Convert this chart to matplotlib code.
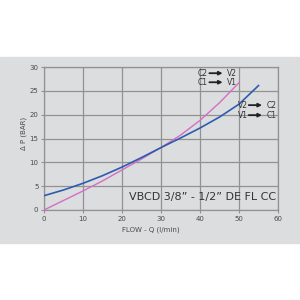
import matplotlib
matplotlib.use("Agg")
import matplotlib.pyplot as plt
from matplotlib.patches import Rectangle

# curves
flow_a = [0, 5, 10, 15, 20, 25, 30, 35, 40, 45, 50]
dp_a = [0, 2.0, 4.0, 6.1, 8.4, 10.7, 13.1, 15.7, 18.8, 22.5, 26.7]   # C -> V (magenta)

flow_b = [0, 5, 10, 15, 20, 25, 30, 35, 40, 45, 50, 55]
dp_b = [3.0, 4.2, 5.6, 7.2, 9.0, 11.0, 13.1, 15.1, 17.2, 19.5, 22.2, 26.1]  # V -> C (blue)

xticks = [0, 10, 20, 30, 40, 50, 60]
yticks = [0, 5, 10, 15, 20, 25, 30]
title = "VBCD 3/8\u201d - 1/2\u201d DE FL CC"

# direction labels: (from, to, x of label, y of label)
directions = [("C2", "V2", 39.5, 28.7), ("C1", "V1", 39.5, 26.8),
              ("V2", "C2", 49.6, 22.0), ("V1", "C1", 49.6, 19.9)]

bg = "#dcdddf"
gridc = "#929292"
txtc = "#4a4a4a"

fig = plt.figure(figsize=(3, 3), dpi=100)
fig.patch.set_facecolor("white")
fig.patches.append(Rectangle((0, 1 - 243 / 300), 1, 186 / 300,
                             transform=fig.transFigure, color=bg, zorder=-1))

ax = fig.add_axes([44 / 300, 1 - 210 / 300, 234 / 300, 143 / 300])
ax.set_zorder(2)
ax.set_facecolor(bg)
ax.set_xlim(0, 60)
ax.set_ylim(0, 30)
ax.set_xticks(xticks)
ax.set_yticks(yticks)
ax.tick_params(labelsize=5, colors=gridc, labelcolor=txtc, length=2, width=0.8, pad=2)
ax.grid(True, color=gridc, linewidth=0.9)
for s in ax.spines.values():
    s.set_color(gridc)
    s.set_linewidth(0.9)

ax.plot(flow_a, dp_a, color="#d46ec4", linewidth=1.0, zorder=3)
ax.plot(flow_b, dp_b, color="#2c5cb0", linewidth=1.2, zorder=3)

# "from -> to" labels with a heavy arrow between them
for src, dst, x, y in directions:
    ax.text(x, y, src, fontsize=5.5, color="#333333", va="center", zorder=5)
    ax.annotate("", xy=(x + 6.3, y), xytext=(x + 2.9, y),
                arrowprops=dict(arrowstyle="-|>", color="#222222", lw=1.3,
                                mutation_scale=5, shrinkA=0, shrinkB=0), zorder=5)
    ax.text(x + 7.4, y, dst, fontsize=5.5, color="#333333", va="center", zorder=5)

ax.text(59.5, 2.7, title, fontsize=8, color="#333333", ha="right", va="center", zorder=4)

fig.text(151 / 300, 1 - 230 / 300, "FLOW - Q (l/min)", fontsize=5, color=txtc,
         ha="center", va="center", zorder=3)
fig.text(24 / 300, 1 - 133 / 300, "\u0394 P (BAR)", fontsize=5, color=txtc,
         ha="center", va="center", rotation=90, zorder=3)

fig.savefig("out.png", dpi=100, facecolor=fig.get_facecolor())
